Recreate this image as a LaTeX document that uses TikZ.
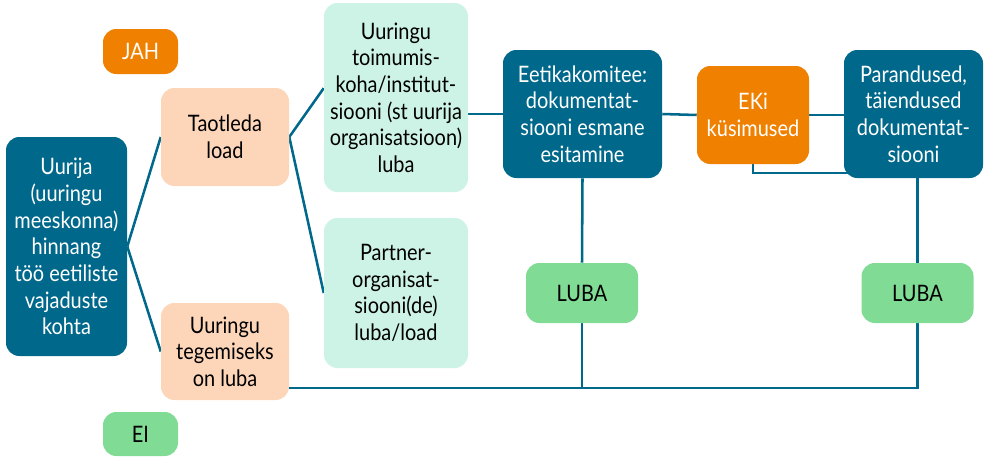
\documentclass[tikz,border=0pt]{standalone}
\usepackage{fontspec}
\setmainfont[FakeStretch=0.88]{Lato}
\usepackage{tikz}
\usetikzlibrary{calc,backgrounds}

\definecolor{tealdark}{RGB}{0,104,139}
\definecolor{orangebox}{RGB}{240,128,0}
\definecolor{peachbox}{RGB}{253,214,186}
\definecolor{mintbox}{RGB}{205,243,231}
\definecolor{greenbox}{RGB}{128,219,148}

\begin{document}
\begin{tikzpicture}[x=0.75pt,y=-0.75pt,
        box/.style={rounded corners=10pt,align=center,inner sep=0pt,
          font=\fontsize{17}{20}\selectfont},
        tealbox/.style={box,fill=tealdark,text=white},
        orangebx/.style={box,fill=orangebox,text=white},
        peachbx/.style={box,fill=peachbox,text=black},
        mintbx/.style={box,fill=mintbox,text=black},
        greenbx/.style={box,fill=greenbox,text=black},
        link/.style={draw=tealdark,line width=1.9pt}]
        \useasboundingbox (0,0) rectangle (989,457);

        \node[tealbox,minimum width=90.75pt,minimum height=164.25pt] (uurija) at (66.5,246.5)
          {Uurija\\(uuringu\\meeskonna)\\hinnang\\töö eetiliste\\vajaduste\\kohta};
        \node[orangebx,minimum width=56.25pt,minimum height=33.75pt] (jah) at (140.5,51.5) {JAH};
        \node[greenbx,minimum width=56.25pt,minimum height=33pt] (ei) at (140.5,434) {EI};
        \node[peachbx,minimum width=96pt,minimum height=73.5pt] (taotleda) at (225,137) {Taotleda\\load};
        \node[peachbx,minimum width=96pt,minimum height=72.75pt] (tegemiseks) at (225,351.5)
          {Uuringu\\tegemiseks\\on luba};

        \node[mintbx,minimum width=108pt,minimum height=141.75pt] (toimumis) at (396,97.5)
          {Uuringu\\toimumis-\\koha/institut-\\siooni (st uurija\\organisatsioon)\\luba};
        \node[mintbx,minimum width=108pt,minimum height=112.5pt] (partner) at (396,293)
          {Partner-\\organisat-\\siooni(de)\\luba/load};

        \node[tealbox,minimum width=119.25pt,minimum height=96pt] (eetika) at (582.5,114)
          {Eetikakomitee:\\dokumentat-\\siooni esmane\\esitamine};
        \node[orangebx,minimum width=84pt,minimum height=73.5pt] (eki) at (753,115) {EKi\\küsimused};
        \node[tealbox,minimum width=104.25pt,minimum height=96pt] (parandused) at (913.5,114)
          {Parandused,\\täiendused\\dokumentat-\\siooni};

        \node[greenbx,minimum width=84pt,minimum height=45pt] (luba1) at (582,293) {LUBA};
        \node[greenbx,minimum width=84pt,minimum height=45pt] (luba2) at (917.5,293) {LUBA};

        \coordinate (bus) at (917.5,388);

        \begin{scope}[on background layer]
          \draw[link] (uurija.east) -- (taotleda.west);
          \draw[link] (uurija.east) -- (tegemiseks.west);
          \draw[link] (taotleda.east) -- ([yshift=7pt]toimumis.west);
          \draw[link] (taotleda.east) -- (partner.west);
          \draw[link] (toimumis.east |- eetika.west) -- (eetika.west);
          \draw[link] (eetika.east) -- (eki.west);
          \draw[link] (eki.east) -- (parandused.west |- eki.east);
          \draw[link] (eki.south) |- ([xshift=8pt,yshift=4pt]parandused.south west);
          \draw[link] (eetika.south) -- (luba1.north);
          \draw[link] (luba1.south) -- (luba1.south |- bus);
          \draw[link] (luba2.north |- parandused.south) -- (luba2.north);
          \draw[link] (luba2.south) -- (bus) -- (tegemiseks.east |- bus);
        \end{scope}
      \end{tikzpicture}
\end{document}
